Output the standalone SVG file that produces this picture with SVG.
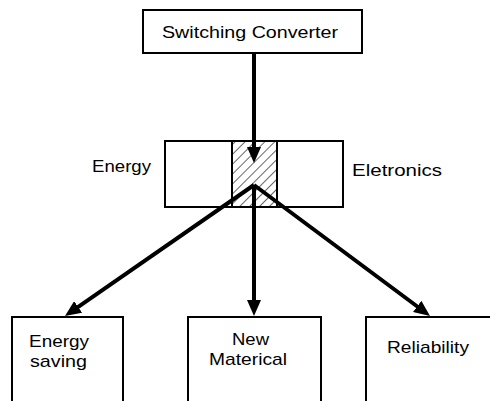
<svg xmlns="http://www.w3.org/2000/svg" width="490" height="401" viewBox="0 0 490 401">
<defs>
<style>
.box{fill:#fff;stroke:#000;stroke-width:2}
.lbl{font-family:"Liberation Sans",Arial,sans-serif;font-size:17px;fill:#000}
.arr{stroke:#000;stroke-width:4;fill:none;marker-end:url(#ah)}
</style>
<marker id="ah" markerUnits="userSpaceOnUse" markerWidth="16" markerHeight="14" refX="6" refY="7" orient="auto">
<path d="M0,0 L16,7 L0,14 z" fill="#000"/>
</marker>
<pattern id="hatch" patternUnits="userSpaceOnUse" width="7" height="7" patternTransform="rotate(45)">
<line x1="0" y1="0" x2="0" y2="7" stroke="#000" stroke-width="1.2"/>
</pattern>
</defs>
<rect width="490" height="401" fill="#fff"/>
<g id="switching-converter">
<rect class="box" x="143" y="10" width="219" height="43"/>
<text class="lbl" x="162" y="38" font-size="18" textLength="176" lengthAdjust="spacingAndGlyphs">Switching Converter</text>
</g>
<g id="energy-electronics">
<rect class="box" x="165" y="141" width="178" height="66"/>
<rect x="232" y="141" width="45" height="66" fill="url(#hatch)" stroke="#000" stroke-width="2"/>
<text class="lbl" x="92" y="172" textLength="59" lengthAdjust="spacingAndGlyphs">Energy</text>
<text class="lbl" x="352" y="176" textLength="90" lengthAdjust="spacingAndGlyphs">Eletronics</text>
</g>
<g id="energy-saving">
<rect class="box" x="12" y="317" width="111" height="100"/>
<text class="lbl" x="29" y="347" textLength="60" lengthAdjust="spacingAndGlyphs">Energy</text>
<text class="lbl" x="30" y="367" textLength="57" lengthAdjust="spacingAndGlyphs">saving</text>
</g>
<g id="new-materical">
<rect class="box" x="188" y="317" width="133" height="100"/>
<text class="lbl" x="232" y="345" textLength="37" lengthAdjust="spacingAndGlyphs">New</text>
<text class="lbl" x="209" y="365" textLength="78" lengthAdjust="spacingAndGlyphs">Materical</text>
</g>
<g id="reliability">
<rect class="box" x="366" y="317" width="140" height="100"/>
<text class="lbl" x="387" y="353" textLength="82" lengthAdjust="spacingAndGlyphs">Reliability</text>
</g>
<g id="connectors">
<line class="arr" x1="254" y1="53" x2="254" y2="153"/>
<line class="arr" x1="254" y1="185" x2="73.2" y2="310.3"/>
<line class="arr" x1="254" y1="185" x2="254" y2="306"/>
<line class="arr" x1="254" y1="185" x2="422" y2="310"/>
</g>
</svg>
